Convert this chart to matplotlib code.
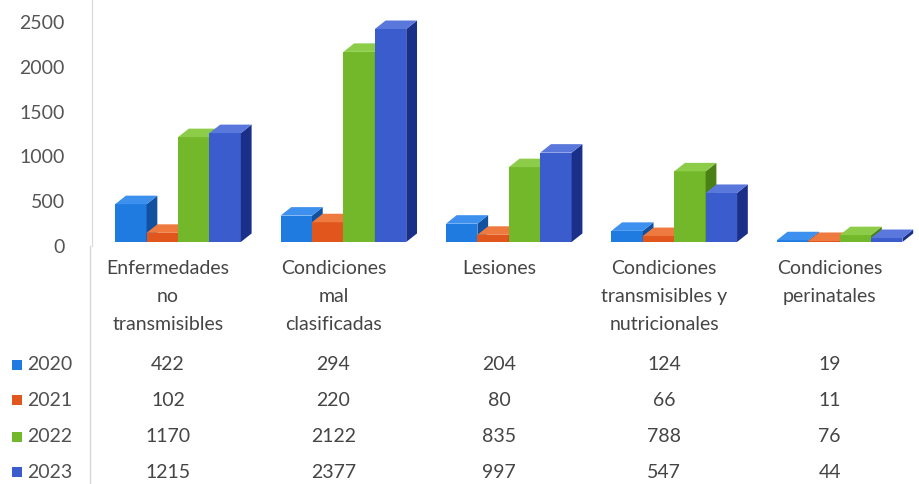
import matplotlib
matplotlib.use("Agg")
import matplotlib.pyplot as plt
from matplotlib.patches import Polygon, Rectangle
import matplotlib.transforms as mtransforms

categories = ["Enfermedades\nno\ntransmisibles", "Condiciones\nmal\nclasificadas", "Lesiones",
              "Condiciones\ntransmisibles y\nnutricionales", "Condiciones\nperinatales"]
years = ["2020", "2021", "2022", "2023"]
v2020 = [422, 294, 204, 124, 19]
v2021 = [102, 220, 80, 66, 11]
v2022 = [1170, 2122, 835, 788, 76]
v2023 = [1215, 2377, 997, 547, 44]
series = [v2020, v2021, v2022, v2023]
yticks = [0, 500, 1000, 1500, 2000, 2500]

front = ["#1f7be0", "#e0561c", "#72b82a", "#3a5ccc"]
side = ["#1250a0", "#9c3410", "#4a8016", "#1a2f88"]
top = ["#3d90ee", "#ee7a40", "#8ccc48", "#5a78dc"]

plt.rcParams['font.family'] = ['Lato', 'DejaVu Sans']
FS = 14
TXT = "#454545"
W, H = 919, 484
fig = plt.figure(figsize=(W / 100, H / 100), dpi=100)
ax = fig.add_axes([92 / W, (H - 246) / H, (W - 92) / W, 246 / H])
ax.set_xlim(-0.5, 4.5)
ax.set_ylim(0, 2746)

bw = 0.19
dx = 0.065
dy = 95
floor = 45  # 3D floor offset of the columns
for si, vals in enumerate(series):
    for ci, v in enumerate(vals):
        x0 = ci + (si - 1.5) * bw - bw / 2 + 0.02
        b, t = floor, floor + v
        ax.add_patch(Rectangle((x0, b), bw, v, facecolor=front[si], edgecolor='none', zorder=3 + si))
        ax.add_patch(Polygon([(x0 + bw, b), (x0 + bw + dx, b + dy), (x0 + bw + dx, t + dy), (x0 + bw, t)],
                             closed=True, facecolor=side[si], edgecolor='none', zorder=3 + si))
        ax.add_patch(Polygon([(x0, t), (x0 + dx, t + dy), (x0 + bw + dx, t + dy), (x0 + bw, t)],
                             closed=True, facecolor=top[si], edgecolor='none', zorder=3 + si))

ax.set_yticks(yticks)
ax.set_yticklabels([str(t) for t in yticks], fontsize=FS, color="#555555")
ax.tick_params(axis='y', length=0, pad=19.5)
ax.set_xticks([])
for s in ["top", "right", "bottom"]:
    ax.spines[s].set_visible(False)
ax.spines["left"].set_color("#d8d8d8")

tr = mtransforms.blended_transform_factory(ax.transData, fig.transFigure)
for ci, c in enumerate(categories):
    fig.text(ci - 0.04, (H - 260) / H, c, transform=tr, ha='center', va='top', fontsize=FS,
             color=TXT, linespacing=1.78)

row_y = [365, 400, 437, 472]
for si, vals in enumerate(series):
    yy = (H - row_y[si]) / H
    for ci, v in enumerate(vals):
        fig.text(ci - 0.04, yy, str(v), transform=tr, ha='center', va='center', fontsize=FS, color=TXT)
    fig.patches.append(Rectangle((12 / W, yy - 5 / H), 10 / W, 10 / H, transform=fig.transFigure,
                                 facecolor=front[si], edgecolor='none'))
    fig.text(27 / W, yy, years[si], ha='left', va='center', fontsize=FS, color="#505050")

fig.add_artist(plt.Line2D([90 / W, 90 / W], [0, (H - 246) / H], transform=fig.transFigure,
                          color="#d8d8d8", lw=1))

fig.savefig("out.png", dpi=100, facecolor="white")
